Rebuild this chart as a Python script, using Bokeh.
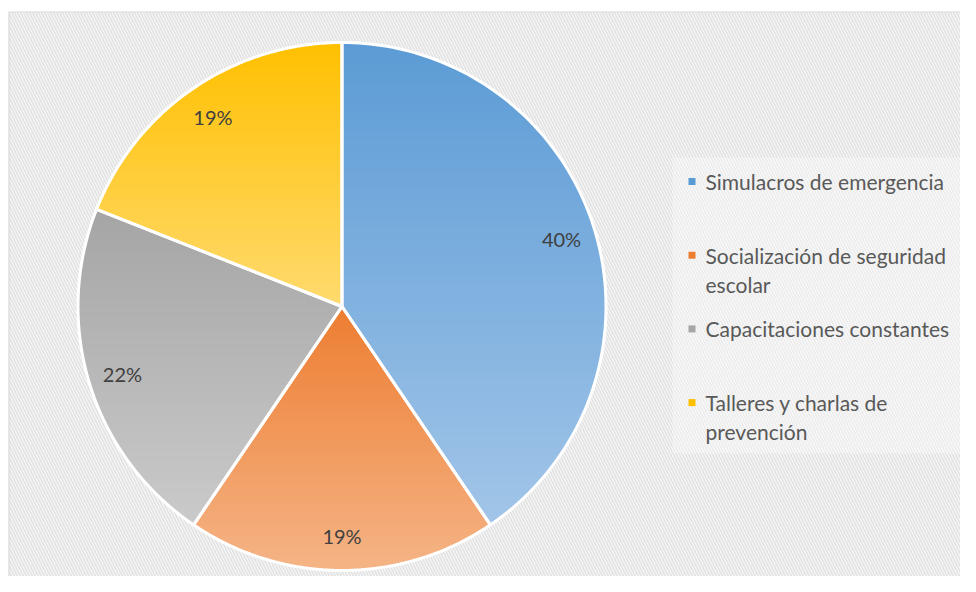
import numpy as np
from bokeh.plotting import figure
from bokeh.models import Range1d
from bokeh.core.properties import value
from bokeh.embed import file_html
from bokeh.resources import INLINE

# ---- data ----
categories = ["Simulacros de emergencia",
              "Socialización de seguridad escolar",
              "Capacitaciones constantes",
              "Talleres y charlas de prevención"]
values = [40.5, 19.0, 21.5, 19.0]
pct_labels = ["40%", "19%", "22%", "19%"]
legend_lines = [["Simulacros de emergencia"],
                ["Socialización de seguridad", "escolar"],
                ["Capacitaciones constantes"],
                ["Talleres y charlas de", "prevención"]]
top_colors = ["#5B9BD5", "#ED7D31", "#A5A5A5", "#FFC000"]
bottom_colors = ["#A2C5E8", "#F5B486", "#CACACA", "#FFDA6E"]

FONT = "Lato"
W, H = 960, 576
p = figure(width=W, height=H, x_range=Range1d(0, W), y_range=Range1d(H, 0),
           output_backend="svg", toolbar_location=None,
           x_axis_type=None, y_axis_type=None, min_border=0)
p.grid.visible = False
p.outline_line_color = None
p.background_fill_color = "white"
p.border_fill_color = "white"

# chart area frame with diagonal hatch
p.quad(left=[8.5], right=[990], top=[11.5], bottom=[600],
       fill_color="white", line_color="#d9d9d9", line_width=1.2,
       hatch_pattern="\\", hatch_color="#e4e4e4", hatch_scale=6, hatch_weight=2)

# legend box (lighter)
p.quad(left=[672], right=[990], top=[157], bottom=[453],
       fill_color="white", fill_alpha=0.35, line_color=None)

cx, cy, r = 341.5, 306.0, 264.0


def hex2rgb(h):
    h = h.lstrip("#")
    return np.array([int(h[i:i + 2], 16) for i in (0, 2, 4)], dtype=float)


def clip(poly, lo, hi):
    def clip_half(pts, keep, inter):
        out = []
        n = len(pts)
        for i in range(n):
            a, b = pts[i], pts[(i + 1) % n]
            ka, kb = keep(a), keep(b)
            if ka:
                out.append(a)
            if ka != kb:
                out.append(inter(a, b))
        return out

    def ix(a, b, yv):
        t = (yv - a[1]) / (b[1] - a[1])
        return (a[0] + t * (b[0] - a[0]), yv)

    pts = clip_half(poly, lambda q: q[1] >= lo, lambda a, b: ix(a, b, lo))
    if not pts:
        return pts
    pts = clip_half(pts, lambda q: q[1] <= hi, lambda a, b: ix(a, b, hi))
    return pts


total = sum(values)
start = 0.0
slice_xs, slice_ys = [], []
band_xs, band_ys, band_cols = [], [], []
lab_x, lab_y = [], []
NB = 70
for i, v in enumerate(values):
    a0 = start
    a1 = start + v / total * 2 * np.pi
    start = a1
    th = np.linspace(a0, a1, 120)
    poly = [(cx, cy)] + [(cx + r * np.sin(t), cy - r * np.cos(t)) for t in th]
    xs = [q[0] for q in poly]
    ys = [q[1] for q in poly]
    slice_xs.append(xs)
    slice_ys.append(ys)
    ymin, ymax = min(ys), max(ys)
    c0, c1 = hex2rgb(top_colors[i]), hex2rgb(bottom_colors[i])
    edges = np.linspace(ymin, ymax, NB + 1)
    for k in range(NB):
        lo, hi = edges[k] - 0.6, edges[k + 1] + 0.6
        cp = clip(poly, lo, hi)
        if len(cp) < 3:
            continue
        t = (k + 0.5) / NB
        c = c0 + (c1 - c0) * t
        band_xs.append([q[0] for q in cp])
        band_ys.append([q[1] for q in cp])
        band_cols.append("#%02x%02x%02x" % tuple(int(round(x)) for x in c))
    mid = (a0 + a1) / 2
    lab_x.append(cx + 0.87 * r * np.sin(mid))
    lab_y.append(cy - 0.87 * r * np.cos(mid))

p.patches(band_xs, band_ys, fill_color=band_cols, line_color=None)
p.patches(slice_xs, slice_ys, fill_alpha=0, line_color="white", line_width=3,
          line_join="round")

p.text(lab_x, lab_y, text=pct_labels, text_align="center", text_baseline="middle",
       text_font=value(FONT), text_font_size="20px", text_color="#404040")

# legend
lx_sq, lx_txt = 691.5, 705.0
y0, step, line_h = 181.0, 73.7, 29.0
sq_x, sq_y, t_x, t_y, t_s = [], [], [], [], []
for i, lines in enumerate(legend_lines):
    yy = y0 + i * step
    sq_x.append(lx_sq)
    sq_y.append(yy)
    for j, s in enumerate(lines):
        t_x.append(lx_txt)
        t_y.append(yy + j * line_h)
        t_s.append(s)
p.scatter(sq_x, sq_y, marker="square", size=7, fill_color=top_colors, line_color=None)
p.text(t_x, t_y, text=t_s, text_align="left", text_baseline="middle",
       text_font=value(FONT), text_font_size="21px", text_color="#595959")

open("out.html", "w").write(file_html(p, INLINE))
